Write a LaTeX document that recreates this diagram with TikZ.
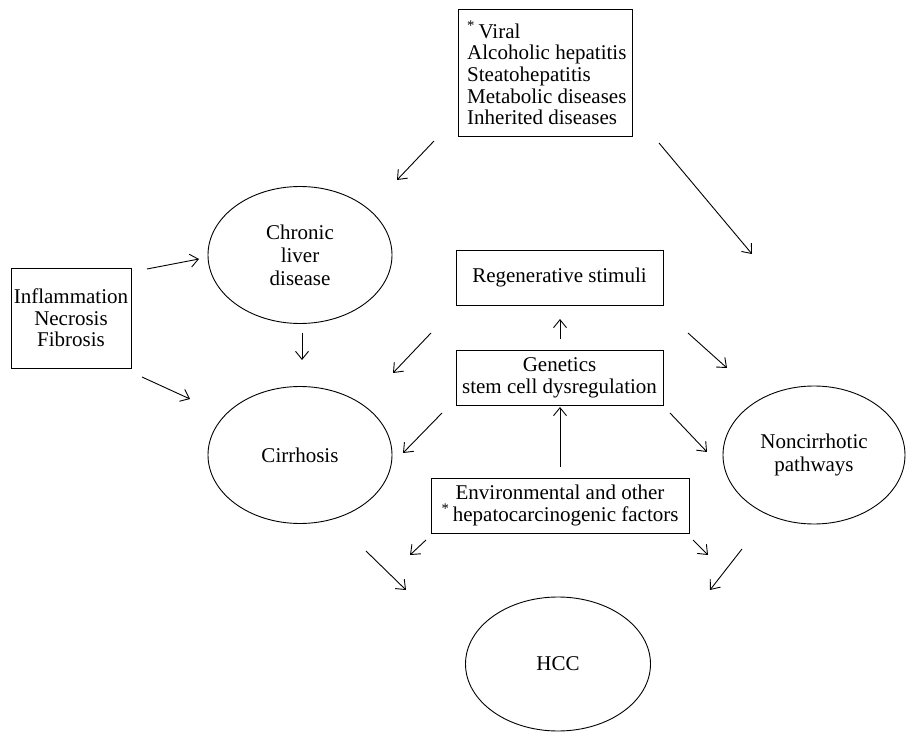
\documentclass[tikz,border=0pt]{standalone}
\usepackage{fontspec}
\setmainfont{Liberation Serif}
\usetikzlibrary{arrows.meta,shapes.geometric}
\begin{document}
\begin{tikzpicture}[x=1pt,y=-1pt,
  every node/.style={font=\fontsize{21}{21.7}\selectfont},
  boxnode/.style={draw,line width=0.9pt,rectangle,inner sep=0pt,align=center},
  ellnode/.style={draw,line width=0.9pt,ellipse,inner sep=0pt,minimum width=184pt,minimum height=137pt,align=center},
  arr/.style={line width=0.9pt,-{Straight Barb[length=8pt,width=13pt,line width=0.9pt]}}
]
\useasboundingbox (0,0) rectangle (906,733);
% boxes
\node[boxnode,minimum width=174pt,minimum height=127pt] (causes) at (545,72.5) {};
\node[anchor=west,inner sep=0pt,align=left] (causestext) at (467,73)
  {\textsuperscript{*}\,Viral\\Alcoholic hepatitis\\Steatohepatitis\\Metabolic diseases\\Inherited diseases};
\node[boxnode,minimum width=120pt,minimum height=100pt] (infl) at (71,318)
  {Inflammation\\Necrosis\\Fibrosis};
\node[boxnode,minimum width=207pt,minimum height=55pt] (regen) at (559.5,277.5)
  {Regenerative stimuli};
\node[boxnode,minimum width=207pt,minimum height=55pt] (gen) at (559.5,377.5)
  {Genetics\\stem cell dysregulation};
\node[boxnode,minimum width=258pt,minimum height=55pt] (env) at (560,505.5)
  {Environmental and other\\\textsuperscript{*}\,hepatocarcinogenic factors};
% ellipses
\node[ellnode,font=\fontsize{21}{23}\selectfont] (cld) at (300,255) {Chronic\\liver\\disease};
\node[ellnode] (cirr) at (300,455) {Cirrhosis};
\node[ellnode,minimum width=182pt,minimum height=138pt,font=\fontsize{21}{23}\selectfont] (nonc) at (814,455) {Noncirrhotic\\pathways};
\node[ellnode,minimum width=185pt,minimum height=134pt] (hcc) at (558,664) {HCC};
% arrow end points
\coordinate (a1s) at (434,141); \coordinate (a1e) at (397,180);
\coordinate (a2s) at (659,143); \coordinate (a2e) at (752,254);
\coordinate (a3s) at (147,269); \coordinate (a3e) at (199,259);
\coordinate (a4s) at (142,377); \coordinate (a4e) at (190,399);
\coordinate (a5s) at (302,333); \coordinate (a5e) at (302,360);
\coordinate (a6s) at (431,333); \coordinate (a6e) at (393,373);
\coordinate (a7s) at (560,339); \coordinate (a7e) at (560,319);
\coordinate (a8s) at (688,333); \coordinate (a8e) at (727,368);
\coordinate (a9s) at (442,413); \coordinate (a9e) at (403,453);
\coordinate (a10s) at (670,413); \coordinate (a10e) at (707,452);
\coordinate (a11s) at (560,467); \coordinate (a11e) at (560,407);
\coordinate (a12s) at (426,540); \coordinate (a12e) at (410,555);
\coordinate (a13s) at (693,540); \coordinate (a13e) at (708,555);
\coordinate (a14s) at (366,551); \coordinate (a14e) at (406,590);
\coordinate (a15s) at (742,549); \coordinate (a15e) at (710,590);
\foreach \i in {1,...,15} {\draw[arr] (a\i s) -- (a\i e);}
\end{tikzpicture}
\end{document}
